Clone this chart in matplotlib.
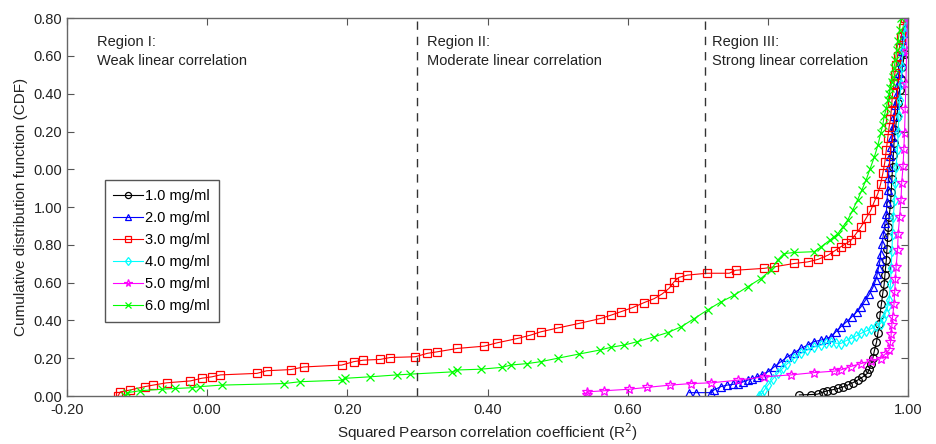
import matplotlib
matplotlib.use("Agg")
import matplotlib.pyplot as plt

plt.rcParams['font.family'] = ['Liberation Sans', 'DejaVu Sans']

# 1.0 mg/ml
x1 = [0.845, 0.862, 0.871, 0.878, 0.885, 0.893, 0.900, 0.907, 0.914, 0.921, 0.928, 0.935,
      0.942, 0.945, 0.947, 0.950, 0.952, 0.955, 0.957, 0.959, 0.960, 0.962, 0.964, 0.966,
      0.967, 0.968, 0.969, 0.970, 0.971, 0.972, 0.973, 0.975, 0.976, 0.977, 0.978, 0.979,
      0.980, 0.982, 0.984, 0.986, 0.988, 0.990, 0.992, 0.995]
y1 = [0.003, 0.004, 0.005, 0.010, 0.014, 0.017, 0.020, 0.024, 0.029, 0.035, 0.042, 0.050,
      0.060, 0.072, 0.086, 0.102, 0.120, 0.142, 0.166, 0.190, 0.215, 0.243, 0.272, 0.296,
      0.320, 0.340, 0.360, 0.390, 0.420, 0.447, 0.474, 0.507, 0.540, 0.574, 0.607, 0.638,
      0.670, 0.705, 0.739, 0.775, 0.810, 0.840, 0.871, 0.905]

# 2.0 mg/ml
x2 = [0.688, 0.697, 0.719, 0.723, 0.733, 0.742, 0.750, 0.757, 0.764, 0.771, 0.778, 0.785,
      0.792, 0.800, 0.809, 0.818, 0.828, 0.838, 0.847, 0.857, 0.866, 0.876, 0.883, 0.890,
      0.897, 0.904, 0.912, 0.920, 0.927, 0.933, 0.939, 0.945, 0.950, 0.954, 0.956, 0.958,
      0.960, 0.961, 0.963, 0.965, 0.967, 0.969, 0.970, 0.971, 0.972, 0.973, 0.975, 0.976,
      0.977, 0.978, 0.980, 0.982, 0.984, 0.985, 0.987, 0.989, 0.991, 0.992, 0.994, 0.996,
      0.999]
y2 = [0.009, 0.009, 0.009, 0.016, 0.025, 0.029, 0.031, 0.033, 0.037, 0.042, 0.046, 0.051,
      0.057, 0.064, 0.077, 0.090, 0.104, 0.115, 0.126, 0.135, 0.144, 0.148, 0.152, 0.157,
      0.170, 0.183, 0.196, 0.210, 0.223, 0.236, 0.253, 0.270, 0.288, 0.307, 0.323, 0.340,
      0.358, 0.377, 0.403, 0.430, 0.457, 0.483, 0.514, 0.545, 0.576, 0.607, 0.634, 0.660,
      0.686, 0.712, 0.741, 0.770, 0.799, 0.827, 0.856, 0.885, 0.914, 0.942, 0.960, 0.975,
      1.000]

# 3.0 mg/ml
x3 = [-0.127, -0.124, -0.110, -0.089, -0.077, -0.058, -0.024, -0.008, 0.007, 0.019,
      0.071, 0.085, 0.119, 0.138, 0.192, 0.209, 0.223, 0.247, 0.261, 0.297, 0.314,
      0.328, 0.357, 0.395, 0.414, 0.442, 0.461, 0.476, 0.500, 0.530, 0.561, 0.576,
      0.590, 0.607, 0.623, 0.638, 0.649, 0.659, 0.666, 0.673, 0.685, 0.713, 0.745,
      0.754, 0.795, 0.809, 0.838, 0.857, 0.872, 0.886, 0.896, 0.904, 0.912, 0.919,
      0.926, 0.933, 0.940, 0.947, 0.952, 0.957, 0.961, 0.964, 0.967, 0.969, 0.971,
      0.973, 0.975, 0.976, 0.977, 0.978, 0.980, 0.981, 0.983, 0.985, 0.988, 0.990,
      0.993, 0.995]
y3 = [0.001, 0.011, 0.016, 0.025, 0.029, 0.035, 0.040, 0.047, 0.051, 0.056,
      0.060, 0.067, 0.070, 0.077, 0.082, 0.091, 0.095, 0.097, 0.102, 0.104, 0.113,
      0.117, 0.126, 0.132, 0.141, 0.152, 0.161, 0.170, 0.180, 0.192, 0.205, 0.214,
      0.223, 0.234, 0.247, 0.258, 0.270, 0.285, 0.302, 0.314, 0.320, 0.325, 0.325,
      0.333, 0.338, 0.342, 0.351, 0.355, 0.362, 0.373, 0.385, 0.395, 0.404, 0.413,
      0.430, 0.448, 0.470, 0.492, 0.515, 0.536, 0.562, 0.589, 0.620, 0.651, 0.682,
      0.712, 0.733, 0.755, 0.778, 0.801, 0.826, 0.850, 0.875, 0.900, 0.925, 0.950,
      0.975, 1.000]

# 4.0 mg/ml
x4 = [0.787, 0.790, 0.795, 0.800, 0.807, 0.814, 0.821, 0.828, 0.838, 0.847, 0.856,
      0.866, 0.876, 0.883, 0.890, 0.897, 0.904, 0.911, 0.918, 0.926, 0.933, 0.940,
      0.947, 0.954, 0.961, 0.965, 0.968, 0.971, 0.973, 0.975, 0.976, 0.977, 0.978,
      0.979, 0.981, 0.982, 0.983, 0.985, 0.986, 0.987, 0.988, 0.990, 0.991, 0.993,
      0.995, 0.997, 0.999]
y4 = [0.000, 0.003, 0.016, 0.029, 0.045, 0.060, 0.073, 0.086, 0.100, 0.113, 0.122,
      0.130, 0.135, 0.140, 0.144, 0.140, 0.139, 0.146, 0.152, 0.159, 0.166, 0.172,
      0.178, 0.185, 0.192, 0.205, 0.220, 0.237, 0.254, 0.297, 0.340, 0.385, 0.430,
      0.475, 0.520, 0.563, 0.607, 0.653, 0.700, 0.742, 0.783, 0.827, 0.870, 0.915,
      0.960, 0.980, 1.000]

# 5.0 mg/ml
x5 = [0.542, 0.542, 0.566, 0.602, 0.628, 0.661, 0.690, 0.719, 0.757, 0.795, 0.833,
      0.866, 0.895, 0.904, 0.918, 0.933, 0.947, 0.961, 0.967, 0.973, 0.975, 0.976,
      0.977, 0.978, 0.980, 0.981, 0.982, 0.983, 0.985, 0.986, 0.988, 0.990, 0.991,
      0.993, 0.994, 0.995, 0.996, 0.997, 0.998, 0.999]
y5 = [0.003, 0.011, 0.014, 0.018, 0.023, 0.029, 0.033, 0.035, 0.042, 0.051, 0.056,
      0.062, 0.066, 0.069, 0.078, 0.086, 0.093, 0.099, 0.110, 0.122, 0.143, 0.165,
      0.188, 0.210, 0.243, 0.275, 0.309, 0.342, 0.386, 0.430, 0.475, 0.519, 0.565,
      0.610, 0.653, 0.695, 0.761, 0.827, 0.913, 1.000]

# 6.0 mg/ml
x6 = [-0.117, -0.114, -0.096, -0.065, -0.046, -0.022, -0.010, 0.021, 0.109, 0.133,
      0.192, 0.197, 0.233, 0.271, 0.290, 0.350, 0.357, 0.390, 0.421, 0.433, 0.457,
      0.476, 0.500, 0.530, 0.561, 0.576, 0.595, 0.614, 0.638, 0.657, 0.676, 0.695,
      0.714, 0.733, 0.752, 0.771, 0.790, 0.804, 0.814, 0.823, 0.838, 0.866, 0.876,
      0.888, 0.894, 0.900, 0.907, 0.914, 0.921, 0.928, 0.934, 0.940, 0.946, 0.952,
      0.957, 0.961, 0.964, 0.966, 0.969, 0.971, 0.973, 0.975, 0.977, 0.978, 0.980,
      0.982, 0.984, 0.986, 0.988, 0.990]
y6 = [0.001, 0.009, 0.014, 0.018, 0.020, 0.022, 0.025, 0.029, 0.033, 0.038,
      0.042, 0.047, 0.051, 0.056, 0.058, 0.064, 0.069, 0.071, 0.076, 0.082, 0.086,
      0.091, 0.100, 0.111, 0.122, 0.129, 0.135, 0.144, 0.157, 0.168, 0.183, 0.205,
      0.228, 0.249, 0.267, 0.289, 0.311, 0.333, 0.360, 0.377, 0.380, 0.382, 0.395,
      0.412, 0.421, 0.430, 0.448, 0.466, 0.492, 0.519, 0.545, 0.571, 0.602, 0.633,
      0.664, 0.695, 0.718, 0.740, 0.762, 0.783, 0.800, 0.815, 0.830, 0.845, 0.868,
      0.890, 0.915, 0.940, 0.970, 1.000]

series = [
    (x1, y1, '1.0 mg/ml', 'black', 'o'),
    (x2, y2, '2.0 mg/ml', 'blue', '^'),
    (x3, y3, '3.0 mg/ml', 'red', 's'),
    (x4, y4, '4.0 mg/ml', 'cyan', 'd'),
    (x5, y5, '5.0 mg/ml', 'magenta', '*'),
    (x6, y6, '6.0 mg/ml', 'lime', 'x'),
]

yticks = [0.0, 0.1, 0.2, 0.3, 0.4, 0.5, 0.6, 0.7, 0.8, 0.9, 1.0]
ytick_labels = ['0.00', '0.20', '0.40', '0.60', '0.80', '1.00',
                '0.00', '0.20', '0.40', '0.60', '0.80']
xticks = [-0.2, 0.0, 0.2, 0.4, 0.6, 0.8, 1.0]
xtick_labels = ['-0.20', '0.00', '0.20', '0.40', '0.60', '0.80', '1.00']

region_x = [0.30, 0.71]
region_text = ['Region I:\nWeak linear correlation',
               'Region II:\nModerate linear correlation',
               'Region III:\nStrong linear correlation']
region_text_x = [-0.157, 0.313, 0.72]

fig = plt.figure(figsize=(9.36, 4.44), dpi=100)
ax = fig.add_axes([0.0716, 0.108, 0.8985, 0.851])

for x, y, lab, col, mk in series:
    ms = 7 if mk == '*' else 5.5
    ax.plot(x, y, color=col, lw=0.8, marker=mk, ms=ms, mfc='none', mec=col, mew=0.9, label=lab)

for xv in region_x:
    ax.plot([xv, xv], [0, 1], color='#333333', lw=1.0, ls=(0, (6, 5)))

for tx, t in zip(region_text_x, region_text):
    ax.text(tx, 0.955, t, fontsize=10.5, color='#222222', va='top', ha='left', linespacing=1.45)

ax.set_xlim(-0.2, 1.0)
ax.set_ylim(0, 1.0)
ax.set_xticks(xticks)
ax.set_xticklabels(xtick_labels)
ax.set_yticks(yticks)
ax.set_yticklabels(ytick_labels)
ax.tick_params(direction='in', top=True, right=True, length=5, width=0.8,
               labelsize=10.5, colors='#555555', labelcolor='#222222')
ax.tick_params(axis='x', pad=5)
for s in ax.spines.values():
    s.set_color('#666666')
    s.set_linewidth(1.0)

ax.set_xlabel('Squared Pearson correlation coefficient (R$^2$)', fontsize=11, color='#222222', labelpad=3)
ax.set_ylabel('Cumulative distribution function (CDF)', fontsize=11, color='#222222', labelpad=4)

leg = ax.legend(loc='upper left', bbox_to_anchor=(0.036, 0.59), fancybox=False,
                edgecolor='#555555', fontsize=10.5, handlelength=2.0, handletextpad=0.2,
                labelspacing=0.55, borderpad=0.6, framealpha=1, markerscale=0.8)
leg.get_frame().set_linewidth(1.0)

fig.savefig('out.png', dpi=100)
